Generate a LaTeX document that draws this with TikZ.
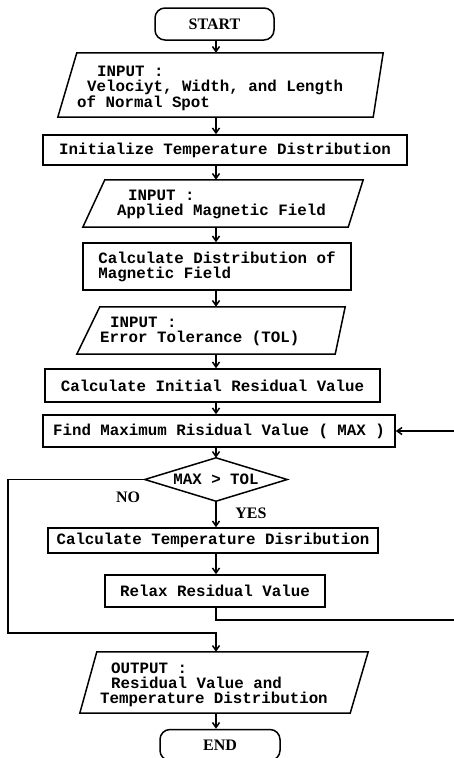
\documentclass[tikz,border=0pt]{standalone}
\usepackage{fontspec}
\setmonofont{Liberation Mono}
\newfontfamily\labfont{Liberation Serif}
\usetikzlibrary{arrows.meta,calc}
\tikzset{
  ln/.style={line width=1.5pt},
  arr/.style={ln,-{Straight Barb[length=5pt,width=7pt]}},
  body/.style={rectangle,inner sep=0pt},
  box/.style={draw,ln,rectangle,inner sep=0pt},
  term/.style={draw,ln,rectangle,rounded corners=10pt,inner sep=0pt,
    font=\labfont\bfseries\fontsize{16}{16}\selectfont},
  txt/.style={font=\ttfamily\bfseries\fontsize{15.8}{15}\selectfont,inner sep=0pt,align=left},
  lab/.style={font=\labfont\bfseries\fontsize{16}{16}\selectfont,inner sep=0pt},
}
\newcommand\paral[3]{\draw[ln] ($(#1.north west)+(#2,0)$) -- ($(#1.north east)+(#3,0)$) -- ($(#1.south east)-(#3,0)$) -- ($(#1.south west)-(#2,0)$) -- cycle;}
\begin{document}
\begin{tikzpicture}[x=1pt,y=-1pt]
\useasboundingbox (0,0) rectangle (454,758);
\clip (0,0) rectangle (454,758);
\fill[white] (0,0) rectangle (454,758);
\coordinate (col) at (216,0);

\node[term,minimum width=119pt,minimum height=32pt] (start) at (214.5,24) {START};

\node[body,minimum width=310.5pt,minimum height=64pt] (in1) at (222.75,85) {};
\paral{in1}{9.5}{5}
\node[txt,anchor=west] (in1t) at (77,88) {\hspace*{20pt}INPUT :\\\hspace*{10pt}Velociyt, Width, and Length\\of Normal Spot};

\node[box,txt,minimum width=364pt,minimum height=30pt] (init) at (225,150) {Initialize Temperature Distribution};

\node[body,minimum width=261.5pt,minimum height=47pt] (in2) at (224.75,203.5) {};
\paral{in2}{11}{7.5}
\node[txt,anchor=west] (in2t) at (117,204.5) {\hspace*{11pt}INPUT :\\Applied Magnetic Field};

\node[box,txt,minimum width=268pt,minimum height=47pt] (calcdist) at (217,266.5) {Calculate Distribution of\\Magnetic Field};

\node[body,minimum width=251.5pt,minimum height=47pt] (in3) at (214.25,330.5) {};
\paral{in3}{11.5}{5}
\node[txt,anchor=west] (in3t) at (100,331.5) {\hspace*{10pt}INPUT :\\Error Tolerance (TOL)};

\node[box,txt,minimum width=335pt,minimum height=33pt] (initres) at (212.5,385.5) {Calculate Initial Residual Value};

\node[box,txt,minimum width=352pt,minimum height=32pt] (findmax) at (219,431) {Find Maximum Risidual Value ( MAX )};

\node[body,txt,minimum width=142pt,minimum height=43pt] (dec) at (216,479.5) {MAX > TOL};
\draw[ln] (dec.north) -- (dec.east) -- (dec.south) -- (dec.west) -- cycle;

\node[box,txt,minimum width=330pt,minimum height=25pt] (calctemp) at (213,540.5) {Calculate Temperature Disribution};

\node[box,txt,minimum width=220pt,minimum height=32pt] (relax) at (215,591) {Relax Residual Value};

\node[body,minimum width=270.5pt,minimum height=61pt] (out) at (223.75,682.5) {};
\paral{out}{8.5}{9}
\node[txt,anchor=west] (outt) at (100,684.5) {\hspace*{11pt}OUTPUT :\\\hspace*{11pt}Residual Value and\\Temperature Distribution};

\node[term,minimum width=120pt,minimum height=31pt] (end) at (220,745) {END};

\node[lab] (nolab) at (128,497) {NO};
\node[lab] (yeslab) at (251,513) {YES};

\coordinate (nol) at (8,633);
\coordinate (lr) at (462,620);

\draw[arr] (col |- start.south) -- (col |- in1.north);
\draw[arr] (col |- in1.south) -- (col |- init.north);
\draw[arr] (col |- init.south) -- (col |- in2.north);
\draw[arr] (col |- in2.south) -- (col |- calcdist.north);
\draw[arr] (col |- calcdist.south) -- (col |- in3.north);
\draw[arr] (col |- in3.south) -- (col |- initres.north);
\draw[arr] (col |- initres.south) -- (col |- findmax.north);
\draw[arr] (col |- findmax.south) -- (dec.north);
\draw[arr] (dec.south) -- (col |- calctemp.north);
\draw[arr] (col |- calctemp.south) -- (col |- relax.north);
\draw[arr] (col |- relax.south) -- (col |- lr) -- (lr) |- (findmax.east);
\draw[arr] (dec.west) -| (nol) -| (col |- out.north);
\draw[arr] (col |- out.south) -- (col |- end.north);
\end{tikzpicture}
\end{document}
